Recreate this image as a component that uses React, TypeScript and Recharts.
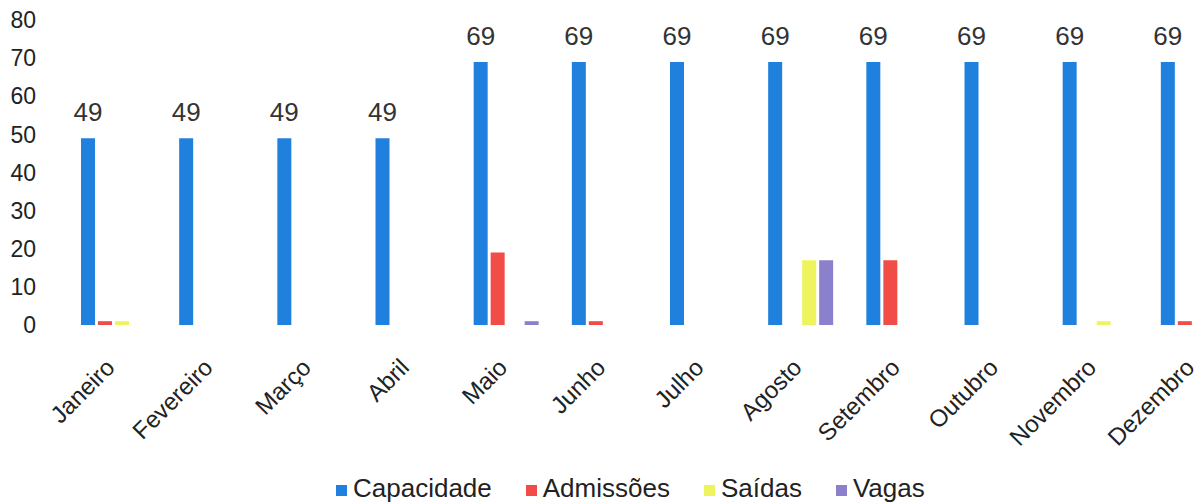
import { BarChart, Bar, XAxis, YAxis, Legend, LabelList } from 'recharts';

const FONT = '"Liberation Sans", Arial, sans-serif';

const MONTHS = [
  'Janeiro', 'Fevereiro', 'Março', 'Abril', 'Maio', 'Junho',
  'Julho', 'Agosto', 'Setembro', 'Outubro', 'Novembro', 'Dezembro',
];
const CAPACIDADE = [49, 49, 49, 49, 69, 69, 69, 69, 69, 69, 69, 69];
const ADMISSOES = [1, 0, 0, 0, 19, 1, 0, 0, 17, 0, 0, 1];
const SAIDAS = [1, 0, 0, 0, 0, 0, 0, 17, 0, 0, 1, 0];
const VAGAS = [0, 0, 0, 0, 1, 0, 0, 17, 0, 0, 0, 0];
const Y_TICKS = [0, 10, 20, 30, 40, 50, 60, 70, 80];

const SERIES = [
  { key: 'capacidade', name: 'Capacidade', color: '#1f80de' },
  { key: 'admissoes', name: 'Admissões', color: '#f24c48' },
  { key: 'saidas', name: 'Saídas', color: '#eef45e' },
  { key: 'vagas', name: 'Vagas', color: '#8b80cc' },
];

const data = MONTHS.map((m, i) => ({
  month: m,
  capacidade: CAPACIDADE[i],
  admissoes: ADMISSOES[i],
  saidas: SAIDAS[i],
  vagas: VAGAS[i],
}));

function LegendContent() {
  return (
    <div style={{ display: 'flex', height: 32, alignItems: 'center', fontFamily: FONT, fontSize: 26, color: '#222' }}>
      {SERIES.map((s) => (
        <div key={s.key} style={{ display: 'flex', alignItems: 'center', marginRight: 34 }}>
          <span style={{ width: 11, height: 11, background: s.color, marginRight: 6, marginTop: 4 }} />
          <span>{s.name}</span>
        </div>
      ))}
    </div>
  );
}

export default function App() {
  return (
    <div style={{ position: 'absolute', left: 0, top: 0, width: 1202, height: 504, overflow: 'hidden', background: '#fff' }}>
      <BarChart
        width={1250}
        height={504}
        data={data}
        margin={{ top: 20, right: 8, left: 0, bottom: 0 }}
        barSize={14}
        barGap={3}
      >
        <XAxis
          dataKey="month"
          axisLine={false}
          tickLine={false}
          tickSize={0}
          tickMargin={32}
          interval={0}
          height={147}
          tick={{ angle: -45, textAnchor: 'end', fontSize: 24, fill: '#222', fontFamily: FONT, dx: -9 }}
        />
        <YAxis
          domain={[0, 80]}
          ticks={Y_TICKS}
          axisLine={false}
          tickLine={false}
          tickSize={0}
          tickMargin={28}
          width={64}
          tick={{ fontSize: 23, fill: '#222', fontFamily: FONT }}
        />
        <Legend
          verticalAlign="bottom"
          content={<LegendContent />}
          wrapperStyle={{ left: 336, width: 'auto', bottom: 0 }}
        />
        {SERIES.map((s) => (
          <Bar key={s.key} dataKey={s.key} name={s.name} fill={s.color} isAnimationActive={false}>
            {s.key === 'capacidade' && (
              <LabelList dataKey="capacidade" position="top" offset={17} style={{ fontSize: 26, fill: '#333', fontFamily: FONT }} />
            )}
          </Bar>
        ))}
      </BarChart>
    </div>
  );
}
